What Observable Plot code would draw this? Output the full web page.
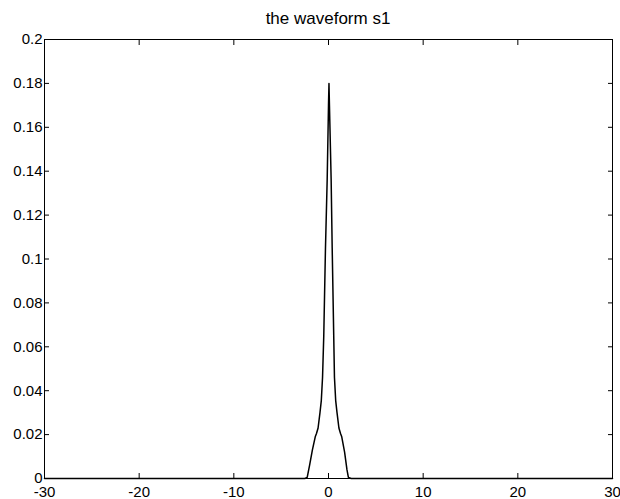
<!DOCTYPE html>
<html>
<head>
<meta charset="utf-8">
<script src="https://cdn.jsdelivr.net/npm/d3@7"></script>
<script src="https://cdn.jsdelivr.net/npm/@observablehq/plot@0.6"></script>
<style>
  body { margin: 0; background: #fff; font-family: "Liberation Sans", Arial, sans-serif; }
  #title { box-sizing: border-box; height: 30px; padding-top: 10px; margin-left: 44px; width: 568px;
           text-align: center; font-size: 17px; line-height: 1; color: #000; }
</style>
</head>
<body>
<div id="title">the waveform s1</div>
<div id="chart"></div>
<script>
const titleText = "the waveform s1";
const tValues = [-30, -2.5, -2.25, -2.0, -1.7, -1.4, -1.27, -1.1, -0.9, -0.76, -0.63, -0.5, -0.32, -0.14, 0.0, 0.05, 0.1, 0.28, 0.39, 0.63, 0.76, 0.9, 1.1, 1.27, 1.4, 1.7, 1.95, 2.1, 2.4, 30];
const sValues = [0, 0, 0.0005, 0.006, 0.013, 0.019, 0.0205, 0.023, 0.03, 0.0355, 0.046, 0.065, 0.105, 0.136, 0.17, 0.18, 0.17, 0.136, 0.105, 0.046, 0.0355, 0.03, 0.023, 0.0205, 0.019, 0.012, 0.004, 0.0005, 0, 0];
const xTicks = [-30, -20, -10, 0, 10, 20, 30];
const yTicks = [0, 0.02, 0.04, 0.06, 0.08, 0.1, 0.12, 0.14, 0.16, 0.18, 0.2];

document.getElementById("title").textContent = titleText;
const data = tValues.map((t, i) => ({t, s: sValues[i]}));

const chart = Plot.plot({
  width: 620,
  height: 469,
  marginLeft: 44,
  marginRight: 8,
  marginTop: 9,
  marginBottom: 21,
  style: {fontFamily: "Liberation Sans, Arial, sans-serif", fontSize: "15px", color: "#000", background: "#fff"},
  x: {domain: [-30, 30]},
  y: {domain: [0, 0.2]},
  marks: [
    Plot.frame({stroke: "#000", strokeWidth: 1}),
    Plot.axisX(xTicks, {anchor: "bottom", tickSize: 0, tickPadding: 8, label: null, tickFormat: d => String(d)}),
    Plot.axisX(xTicks, {anchor: "bottom", tickSize: -5, tickFormat: () => "", label: null}),
    Plot.axisX(xTicks, {anchor: "top", tickSize: -5, tickFormat: () => "", label: null}),
    Plot.axisY(yTicks, {anchor: "left", tickSize: 0, tickPadding: 2, label: null, tickFormat: d => String(+d.toFixed(2))}),
    Plot.axisY(yTicks, {anchor: "left", tickSize: -5, tickFormat: () => "", label: null}),
    Plot.axisY(yTicks, {anchor: "right", tickSize: -5, tickFormat: () => "", label: null}),
    Plot.line(data, {x: "t", y: "s", stroke: "#000", strokeWidth: 1.5})
  ]
});
document.getElementById("chart").appendChild(chart);
</script>
</body>
</html>
